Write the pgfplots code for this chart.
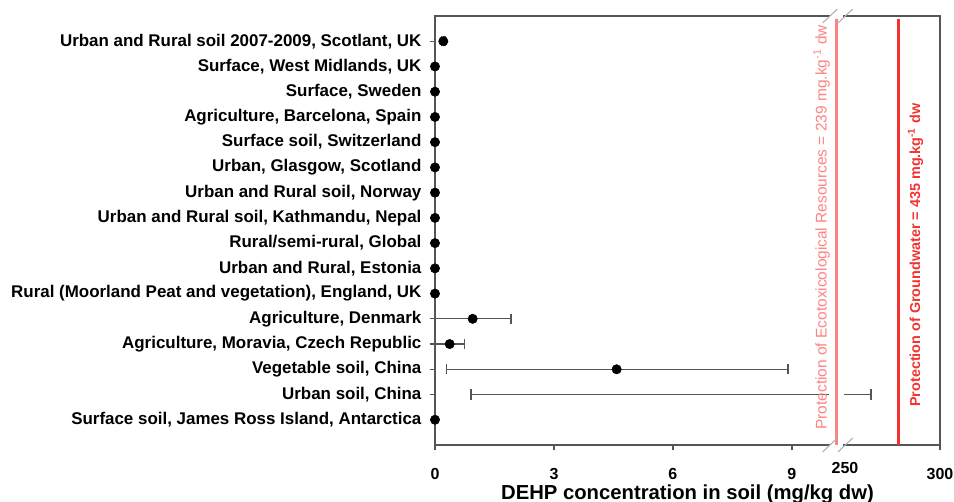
\documentclass[border=0pt]{standalone}
\usepackage{fontspec}
\setmainfont{Liberation Sans}
\usepackage{pgfplots}
\usepackage{pgfplotstable}
\pgfplotsset{compat=1.18}

\definecolor{framegray}{RGB}{85,85,85}
\definecolor{slashgray}{RGB}{175,175,175}
\definecolor{ecopink}{RGB}{255,130,130}
\definecolor{gwred}{RGB}{245,50,50}

% mean DEHP per site (row 1 = top); Urban soil China has no mean shown
\pgfplotstableread{
x y
0.21 1
0 2
0 3
0 4
0 5
0 6
0 7
0 8
0 9
0 10
0 11
0.95 12
0.37 13
4.58 14
0 16
}\means

% sites with a range: mean, row, minus, plus
\pgfplotstableread{
x y xm xp
0.21 1 0.04 0.04
0.95 12 0.95 0.97
0.37 13 0.37 0.37
4.58 14 4.29 4.32
}\ranges

\begin{document}
\begin{tikzpicture}
\pgfplotsset{
  brk/.style={
    scale only axis, height=321.75pt,
    ymin=0, ymax=17, y dir=reverse,
    axis line style={draw=none},
    tick pos=left, tick align=outside,
    major tick length=4pt,
    tick style={framegray, line width=0.9pt},
    /pgf/number format/assume math mode=true,
    xticklabel style={font=\fontsize{12}{14}\bfseries, inner sep=0pt, anchor=north, yshift=-13pt},
    clip=false,
  },
}
\begin{axis}[brk, name=A, at={(0,0)}, anchor=south west,
  width=296.25pt,
  xmin=0, xmax=9.96,
  xtick={0,3,6,9},
  ytick={1,...,16},
  yticklabels={
    {Urban and Rural soil 2007-2009, Scotlant, UK},
    {Surface, West Midlands, UK},
    {Surface, Sweden},
    {Agriculture, Barcelona, Spain},
    {Surface soil, Switzerland},
    {Urban, Glasgow, Scotland},
    {Urban and Rural soil, Norway},
    {Urban and Rural soil, Kathmandu, Nepal},
    {Rural/semi-rural, Global},
    {Urban and Rural, Estonia},
    {Rural (Moorland Peat and vegetation), England, UK},
    {Agriculture, Denmark},
    {Agriculture, Moravia, Czech Republic},
    {Vegetable soil, China\ },
    {Urban soil, China},
    {Surface soil, James Ross Island, Antarctica}},
  yticklabel style={font=\fontsize{12.7}{15}\bfseries, inner sep=0pt, anchor=east, xshift=-6pt},
]
  \draw[framegray, line width=1.1pt] (axis cs:9.96,0) -- (axis cs:0,0) -- (axis cs:0,17) -- (axis cs:9.96,17);

  \addplot[draw=none, mark=none, forget plot,
    error bars/.cd, x dir=both, x explicit,
    error bar style={framegray, line width=1pt},
    error mark options={framegray, line width=1pt, mark size=3.8pt, rotate=90}]
    table[x=x, y=y, x error minus=xm, x error plus=xp] {\ranges};

  % Urban soil, China: range runs past the break
  \addplot[framegray, line width=1pt, mark=|, mark indices={1},
    mark options={mark size=3.8pt}] coordinates {(0.91,15) (9.93,15)};

  \addplot[only marks, mark=*, mark size=3.5pt, black] table[x=x, y=y] {\means};
\end{axis}

\begin{axis}[brk, name=B, at={(A.south east)}, anchor=south west,
  width=82.5pt,
  xmin=242.1, xmax=300,
  xtick={300}, ytick=\empty,
  extra x ticks={250},
  extra tick style={major tick length=0pt},
]
  \draw[framegray, line width=1.1pt] (axis cs:249,0) -- (axis cs:300,0) -- (axis cs:300,17) -- (axis cs:249,17);

  \addplot[framegray, line width=1pt, mark=|, mark indices={2},
    mark options={mark size=3.8pt}] coordinates {(249.6,15) (263.7,15)};

  % guideline values, drawn where the source figure places them
  \addplot[ecopink, line width=2.25pt] coordinates {(245.3,0.1) (245.3,17)};
  \addplot[gwred, line width=2.25pt] coordinates {(277.9,0.1) (277.9,17)};

  \node[rotate=90, anchor=base west, inner sep=0pt, text=ecopink,
    font=\fontsize{11.6}{14}\selectfont] at (axis cs:240.3,16.4)
    {Protection of Ecotoxicological Resources = 239 mg.kg\textsuperscript{-1} dw};
  \node[rotate=90, anchor=base west, inner sep=0pt, text=gwred,
    font=\fontsize{10.8}{13}\bfseries] at (axis cs:289.5,15.49)
    {Protection of Groundwater = 435 mg.kg\textsuperscript{-1} dw};
\end{axis}

% break marks
\foreach \c in {A.north east, A.south east}{
  \draw[slashgray, line width=0.8pt] ([shift={(-5.5pt,-5.2pt)}]\c) -- ++(11pt,10.4pt);
  \draw[slashgray, line width=0.8pt] ([shift={(6pt,-5.2pt)}]\c) -- ++(11pt,10.4pt);
}

\path (A.south west) -- (B.south east)
  node[midway, anchor=base, yshift=-41.2pt, font=\fontsize{15.2}{18}\bfseries]
  {DEHP concentration in soil (mg/kg dw)};

\pgfresetboundingbox
\path[use as bounding box] ([shift={(-326.25pt,-42.75pt)}]A.south west)
  rectangle ([shift={(389.25pt,333.75pt)}]A.south west);
\end{tikzpicture}
\end{document}
